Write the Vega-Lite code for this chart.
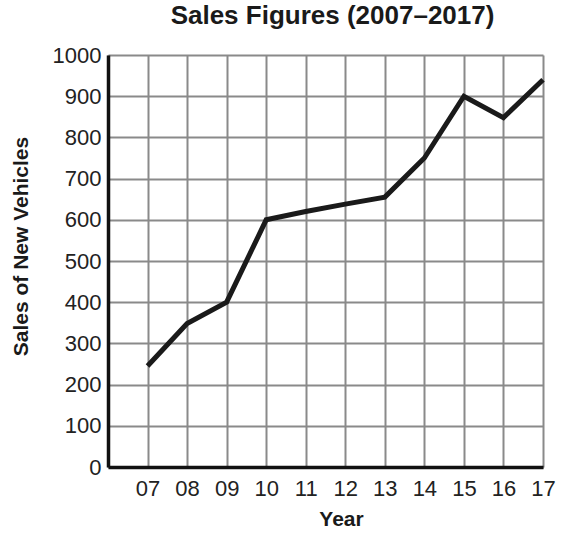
{
  "$schema": "https://vega.github.io/schema/vega-lite/v6.json",
  "width": 435,
  "height": 412,
  "autosize": "none",
  "padding": {"left": 108, "top": 55, "right": 19, "bottom": 66},
  "background": "white",
  "title": {"text": "Sales Figures (2007–2017)", "font": "Liberation Sans", "fontSize": 26, "fontWeight": "bold", "color": "#1a1a1a", "anchor": "middle", "offset": 15, "dx": 7},
  "data": {"values": [
    {"year": 7, "sales": 245},
    {"year": 8, "sales": 348},
    {"year": 9, "sales": 400},
    {"year": 10, "sales": 600},
    {"year": 11, "sales": 620},
    {"year": 12, "sales": 638},
    {"year": 13, "sales": 655},
    {"year": 14, "sales": 750},
    {"year": 15, "sales": 900},
    {"year": 16, "sales": 848},
    {"year": 17, "sales": 940}
  ]},
  "config": {
    "view": {"stroke": null},
    "axis": {"labelFont": "Liberation Sans", "titleFont": "Liberation Sans", "labelColor": "#222", "titleColor": "#1a1a1a", "gridColor": "#8a8a8a", "gridWidth": 2, "gridOpacity": 1, "domainColor": "#111", "domainWidth": 3.5, "ticks": false}
  },
  "mark": {"type": "line", "color": "#1a1a1a", "strokeWidth": 5, "strokeJoin": "miter", "strokeCap": "butt"},
  "encoding": {
    "x": {"field": "year", "type": "quantitative", "scale": {"domain": [6, 17], "nice": false, "zero": false},
      "axis": {"title": "Year", "values": [6,7,8,9,10,11,12,13,14,15,16,17], "labelExpr": "datum.value < 7 ? '' : (datum.value < 10 ? '0' + datum.value : '' + datum.value)", "labelFontSize": 22, "labelPadding": 11, "titleFontSize": 21, "titleFontWeight": "bold", "titlePadding": 9, "titleX": 233, "labelFlush": false}},
    "y": {"field": "sales", "type": "quantitative", "scale": {"domain": [0, 1000], "nice": false},
      "axis": {"title": "Sales of New Vehicles", "values": [0,100,200,300,400,500,600,700,800,900,1000], "format": "d", "labelFontSize": 22, "labelPadding": 7, "titleFontSize": 21, "titleFontWeight": "bold", "titlePadding": 21, "titleY": 191, "labelFlush": false}}
  }
}
